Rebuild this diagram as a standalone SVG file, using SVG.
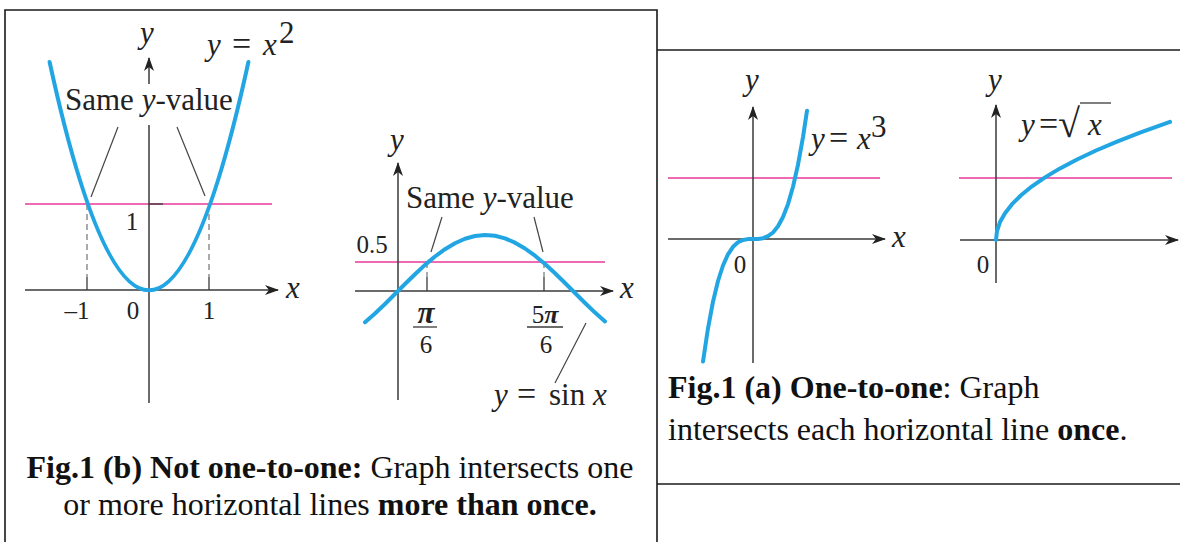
<svg xmlns="http://www.w3.org/2000/svg" width="1180" height="542" viewBox="0 0 1180 542">
<style>
.frame{stroke:#1a1a1a;stroke-width:1.6;fill:none}
.axis{stroke:#3a3a3a;stroke-width:1.5;fill:none}
.curve{stroke:#22a6e3;stroke-width:4;fill:none;stroke-linecap:round;stroke-linejoin:round}
.hline{stroke:#e8399a;stroke-width:1.6;fill:none}
.dash{stroke:#666;stroke-width:1.1;stroke-dasharray:6,4;fill:none}
.tick{stroke:#3a3a3a;stroke-width:1.3;fill:none}
.lead{stroke:#444;stroke-width:1.2;fill:none}
text{fill:#222}
.var{font-style:italic;font-size:31px}
.lbl{font-size:31px}
.eq{font-size:34px}
.num{font-size:25px}
.cap{font-size:32px;fill:#111}
.b{font-weight:bold}
</style>
<defs>
<marker id="arr" markerUnits="userSpaceOnUse" markerWidth="14" markerHeight="10" refX="13" refY="5" orient="auto">
<path d="M0,0 L14,5 L0,10 L4,5 Z" fill="#222"/>
</marker>
</defs>

<g id="frames">
<path class="frame" d="M5,542 V10 H657 V542"/>
<path class="frame" d="M657,50 H1180"/>
<path class="frame" d="M657,484 H1180"/>
</g>

<g font-family="'Liberation Serif', 'DejaVu Serif', serif">
<g id="graph-parabola">
<line class="hline" x1="25" y1="204" x2="272" y2="204"/>
<line class="dash" x1="87" y1="204" x2="87" y2="277"/>
<line class="dash" x1="209" y1="204" x2="209" y2="277"/>
<line class="tick" x1="87" y1="277" x2="87" y2="290"/>
<line class="tick" x1="209" y1="277" x2="209" y2="290"/>
<line class="tick" x1="149" y1="204" x2="163" y2="204"/>
<line class="axis" x1="25" y1="290" x2="278" y2="290" marker-end="url(#arr)"/>
<line class="axis" x1="149" y1="84" x2="149" y2="58" marker-end="url(#arr)"/>
<line class="axis" x1="149" y1="125" x2="149" y2="403"/>
<path class="curve" d="M49.6,62 Q149,518.7 248.4,62"/>
<line class="lead" x1="118" y1="127" x2="91" y2="197"/>
<line class="lead" x1="177" y1="127" x2="205" y2="196"/>
<text class="var" x="147" y="43" text-anchor="middle">y</text>
<text class="var" x="286" y="298">x</text>
<text class="lbl" x="65" y="110">Same <tspan font-style="italic">y</tspan>-value</text>
<text class="num" x="132" y="230" text-anchor="middle">1</text>
<text class="num" x="77" y="319" text-anchor="middle">–1</text>
<text class="num" x="133" y="319" text-anchor="middle">0</text>
<text class="num" x="209" y="319" text-anchor="middle">1</text>
<text class="var" x="207" y="55">y</text>
<text class="eq" x="232" y="55">=</text>
<text class="var" x="263" y="55">x</text>
<text class="lbl" x="279" y="43" font-size="19px">2</text>
</g>

<g id="graph-sine">
<line class="hline" x1="355" y1="262" x2="605" y2="262"/>
<line class="dash" x1="427" y1="262" x2="427" y2="277"/>
<line class="dash" x1="544" y1="262" x2="544" y2="277"/>
<line class="tick" x1="427" y1="277" x2="427" y2="291"/>
<line class="tick" x1="544" y1="277" x2="544" y2="291"/>
<line class="axis" x1="355" y1="291" x2="613" y2="291" marker-end="url(#arr)"/>
<line class="axis" x1="398" y1="400" x2="398" y2="163" marker-end="url(#arr)"/>
<polyline class="curve" points="365,322.3 375,313.5 385,304 395,294 405,284 415,274.2 425,264.9 435,256.5 445,249.2 455,243.2 465,238.7 475,236 485,235 495,235.8 505,238.4 515,242.7 525,248.5 535,255.7 545,264 555,273.2 565,283 575,293 585,303 595,312.6 605,321.4"/>
<line class="lead" x1="442" y1="217" x2="431" y2="252"/>
<line class="lead" x1="534" y1="217" x2="543" y2="252"/>
<line class="lead" x1="586" y1="323" x2="555" y2="383"/>
<text class="var" x="397" y="150" text-anchor="middle">y</text>
<text class="var" x="620" y="298">x</text>
<text class="lbl" x="406" y="208">Same <tspan font-style="italic">y</tspan>-value</text>
<text class="num" x="372" y="253" text-anchor="middle">0.5</text>
<text class="var" x="426" y="323" text-anchor="middle" font-weight="bold" font-size="26px">π</text>
<line class="tick" x1="413" y1="327" x2="437" y2="327"/>
<text class="num" x="426" y="353" text-anchor="middle">6</text>
<text class="num" x="545" y="323" text-anchor="middle">5<tspan font-style="italic" font-weight="bold" font-size="26px">π</tspan></text>
<line class="tick" x1="527" y1="327" x2="563" y2="327"/>
<text class="num" x="546" y="353" text-anchor="middle">6</text>
<text class="var" x="494" y="405">y</text>
<text class="eq" x="517" y="405">=</text>
<text class="lbl" x="549" y="405">sin</text>
<text class="var" x="593" y="405">x</text>
</g>

<g id="graph-cube">
<line class="hline" x1="668" y1="178" x2="880" y2="178"/>
<line class="axis" x1="668" y1="239" x2="885" y2="239" marker-end="url(#arr)"/>
<line class="axis" x1="753" y1="363" x2="753" y2="107" marker-end="url(#arr)"/>
<polyline class="curve" points="703,361.5 708,328.3 713,301.7 718,281 723,265.5 728,254.3 733,246.8 738,242.3 743,240 748,239.1 753,239 758,238.9 763,238.2 768,236.2 773,232.5 778,226.3 783,217 788,204.1 793,186.8 798,164.7 803,137.1 807,110.7"/>
<text class="var" x="752" y="90" text-anchor="middle">y</text>
<text class="var" x="892" y="247">x</text>
<text class="num" x="740" y="273" text-anchor="middle">0</text>
<text class="var" x="811" y="149">y</text>
<text class="eq" x="829" y="149">=</text>
<text class="var" x="857" y="149">x</text>
<text class="lbl" x="871" y="137" font-size="19px">3</text>
</g>

<g id="graph-sqrt">
<line class="hline" x1="959" y1="178" x2="1172" y2="178"/>
<line class="axis" x1="960" y1="240" x2="1178" y2="240" marker-end="url(#arr)"/>
<line class="axis" x1="996" y1="283" x2="996" y2="105" marker-end="url(#arr)"/>
<polyline class="curve" points="996,240 997,231.05 1000,222.1 1005,213.15 1012,204.2 1021,195.25 1032,186.3 1045,177.35 1060,168.4 1077,159.45 1096,150.5 1117,141.55 1140,132.6 1170,121.9"/>
<text class="var" x="995" y="90" text-anchor="middle">y</text>
<text class="num" x="983" y="273" text-anchor="middle">0</text>
<text class="var" x="1021" y="135">y</text>
<text class="eq" x="1039" y="135">=</text>
<text x="1058" y="137" font-size="40px">√</text>
<line class="tick" x1="1080" y1="103" x2="1111" y2="103" stroke-width="1.6"/>
<text class="var" x="1088" y="135">x</text>
</g>

<g id="caption-b">
<text class="cap" x="330" y="478" text-anchor="middle"><tspan class="b">Fig.1 (b) Not one-to-one:</tspan> Graph intersects one</text>
<text class="cap" x="330" y="515" text-anchor="middle">or more horizontal lines <tspan class="b">more than once.</tspan></text>
</g>

<g id="caption-a">
<text class="cap" x="668" y="398"><tspan class="b">Fig.1 (a) One-to-one</tspan>: Graph</text>
<text class="cap" x="668" y="440">intersects each horizontal line <tspan class="b">once</tspan>.</text>
</g>
</g>
</svg>
